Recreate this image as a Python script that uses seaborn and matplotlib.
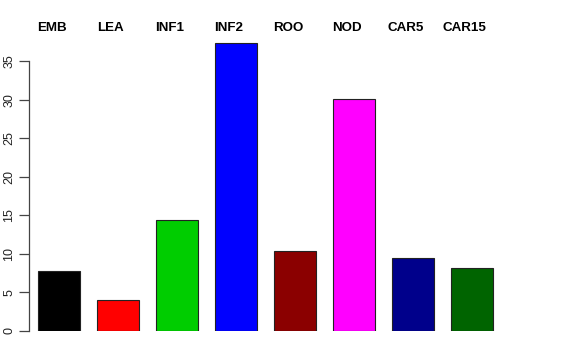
import matplotlib
matplotlib.use("Agg")
import matplotlib.pyplot as plt
import matplotlib.transforms as mtransforms
import seaborn as sns
import pandas as pd

categories = ["EMB", "LEA", "INF1", "INF2", "ROO", "NOD", "CAR5", "CAR15"]
values = [7.75, 4.0, 14.35, 37.35, 10.35, 30.05, 9.45, 8.15]
colors = ["#000000", "#FF0000", "#00CD00", "#0000FF", "#8B0000", "#FF00FF", "#00008B", "#006400"]
yticks = [0, 5, 10, 15, 20, 25, 30, 35]

df = pd.DataFrame({"cat": categories, "val": values})

sns.set_style("white")
plt.rcParams["font.family"] = ["Liberation Sans", "DejaVu Sans"]
plt.rcParams["text.color"] = "black"
plt.rcParams["ytick.labelcolor"] = "#222222"

W, H = 576, 360
fig = plt.figure(figsize=(W / 100, H / 100), dpi=100)
left_px, right_px, bottom_px, top_px = 29, 540, 331, 20
ax = fig.add_axes([left_px / W, 1 - bottom_px / H, (right_px - left_px) / W, (bottom_px - top_px) / H])

sns.barplot(data=df, x="cat", y="val", hue="cat", palette=colors, legend=False,
            width=0.71, saturation=1, edgecolor="#222222", linewidth=0.8, ax=ax)

px_per_unit = 59.0
x0 = (left_px - 59) / px_per_unit
ax.set_xlim(x0, x0 + (right_px - left_px) / px_per_unit)
ppy = 270 / 35.0
ax.set_ylim(0, (bottom_px - top_px) / ppy)

for s in ["top", "right", "bottom"]:
    ax.spines[s].set_visible(False)
ax.spines["left"].set_bounds(0, 35)
ax.spines["left"].set_color("#444444")
ax.spines["left"].set_linewidth(0.9)
ax.set_xticks([])
ax.set_yticks(yticks)
ax.set_yticklabels([str(t) for t in yticks], rotation=90, va="center", fontsize=9, color="#222222")
ax.tick_params(axis="y", length=7, width=0.9, color="#444444", pad=3, left=True)
ax.set_xlabel("")
ax.set_ylabel("")

trans = mtransforms.blended_transform_factory(ax.transData, fig.transFigure)
for i, c in enumerate(categories):
    ax.text(i - 0.12, 1 - 28 / H, c, transform=trans, ha="center", va="center",
            fontsize=9.6, fontweight="bold", color="black")

fig.savefig("out.png", dpi=100, facecolor="white")
